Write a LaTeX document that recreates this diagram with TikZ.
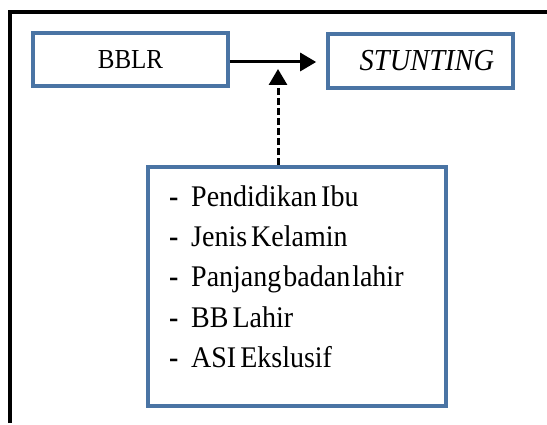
\documentclass[tikz,border=0pt]{standalone}
\usepackage{fontspec}
\setmainfont{Liberation Serif}
\usetikzlibrary{arrows.meta}
\definecolor{boxblue}{HTML}{4A74A4}
\newcommand\vstretch[1]{\scalebox{1}[1.07]{#1}}
\tikzset{
  box/.style={draw=boxblue, line width=3.6pt, inner sep=0pt, fill=white},
  itemtxt/.style={anchor=base west, inner sep=0pt, font=\fontsize{28}{32}\selectfont},
  conn/.style={line width=3pt, -{Triangle[length=16pt,width=18pt]}},
}
\begin{document}
\begin{tikzpicture}[x=1pt,y=-1pt]
\useasboundingbox (0,0) rectangle (547,425);
% frame
\draw[line width=4pt] (10,423) -- (10,12) -- (548,12);
% boxes
\node[box, minimum width=195pt, minimum height=53pt, font=\fontsize{25}{30}\selectfont] (bblr) at (130.5,59.5) {\scalebox{1}[1.1]{BBLR}};
\node[box, minimum width=185pt, minimum height=54pt, font=\fontsize{28.5}{30}\selectfont\itshape] (stunting) at (420.5,61) {\hspace{13pt}\vstretch{STUNTING}};
\node[box, minimum width=298pt, minimum height=239pt] (factors) at (297,286.5) {};
% list
\foreach \i/\t in {0/{Pendidikan\hspace{4pt}Ibu},1/{Jenis\hspace{4pt}Kelamin},2/{Panjang\hspace{2pt}badan\hspace{2pt}lahir},3/{BB\hspace{4pt}Lahir},4/{ASI\hspace{4pt}Ekslusif}}{
  \node[itemtxt] (d\i) at (169,207+40*\i) {\vstretch{\textbf{-}}};
  \node[itemtxt] (t\i) at (191,207+40*\i) {\vstretch{\t}};
}
% connectors
\coordinate (dtop) at (278,69);
\draw[conn, shorten >=10pt] ([yshift=-2.5pt]bblr.east) -- ([yshift=-2.5pt]bblr.east -| stunting.west);
\draw[conn, dash pattern=on 7pt off 3pt] (dtop |- factors.north) -- (dtop);
\end{tikzpicture}
\end{document}
